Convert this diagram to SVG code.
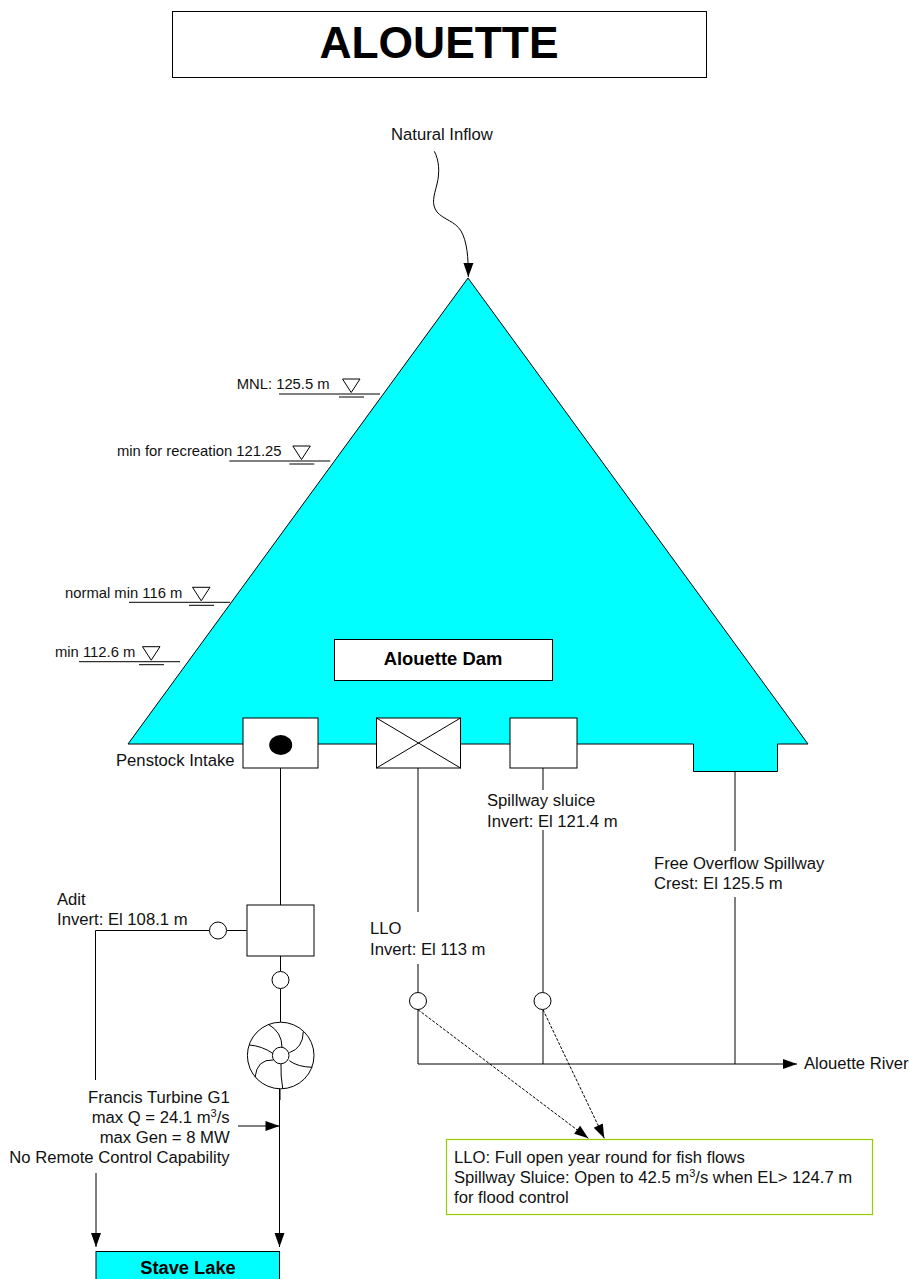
<svg xmlns="http://www.w3.org/2000/svg" width="909" height="1279" viewBox="0 0 909 1279">
<style>
text{font-family:"Liberation Sans",Arial,sans-serif;font-size:16.67px;fill:#111}
.b{font-weight:bold;fill:#000}
.m{text-anchor:middle}
.r{text-anchor:end}
.u{font-size:11px}
.l{font-size:14.8px}
.s{fill:none;stroke:#000;stroke-width:1}
.w{fill:#fff;stroke:#000;stroke-width:1}
.a{marker-end:url(#arrow)}
.d{stroke-dasharray:3 1.5;marker-end:url(#arrow)}
</style>
<defs>
<marker id="arrow" markerUnits="userSpaceOnUse" markerWidth="14" markerHeight="10" viewBox="0 0 14 10" refX="14" refY="5" orient="auto" overflow="visible"><path d="M0,0 L14,5 L0,10 Z" fill="#000"/></marker>
<g id="lvl"><path class="s" d="M0,0 H101"/><path class="s" d="M60,3 H85"/><path class="w" d="M63.5,-15 H81 L72.2,-1.5 Z"/></g>
</defs>
<rect width="909" height="1279" fill="#fff"/>
<g id="title"><rect class="w" x="172.5" y="11.5" width="534" height="66"/><text class="b m" x="439" y="58" style="font-size:44.4px">ALOUETTE</text></g>
<g id="reservoir"><path d="M468,278 L808,744 H777.5 V771.5 H693.5 V744 H128 Z" fill="#00ffff" stroke="#000" stroke-width="1"/></g>
<g id="connectors">
<path class="s a" d="M434.3,151.3 C439,160 440,172 437,184 C434,196 431,204 437,212 C444,220 455,221 461,231 C467,241 468.5,258 468.3,277"/>
<path class="s" d="M280.5,768 V905"/>
<path class="s" d="M246.5,930.5 H227"/>
<path class="s" d="M209.5,930.5 H95.5 V1080"/>
<path class="s a" d="M96,1173 V1247"/>
<path class="s" d="M280.5,956 V971.5"/>
<path class="s" d="M280.5,988.5 V1022"/>
<path class="s" d="M280,1089 V1100"/>
<path class="s a" d="M279.5,1089 V1247"/>
<path class="s a" d="M238,1126 H279.5"/>
<path class="s" d="M418,768 V912"/>
<path class="s" d="M418,964 V992.5"/>
<path class="s" d="M418,1009.5 V1064"/>
<path class="s" d="M543,768 V790"/>
<path class="s" d="M543,830 V992.5"/>
<path class="s" d="M543,1009.5 V1064"/>
<path class="s" d="M735,771.5 V851"/>
<path class="s" d="M735,897 V1064"/>
<path class="s a" d="M418,1064 H797"/>
<path class="s d" stroke-width=".8" d="M418,1009.7 L588.3,1138.3"/>
<path class="s d" stroke-width=".8" d="M543,1009.7 L604.3,1138.3"/>
</g>
<g id="inflow-label"><text x="391" y="140">Natural Inflow</text></g>
<g id="level-mnl"><use href="#lvl" x="279" y="394"/><text class="l" x="236.7" y="389">MNL: 125.5 m</text></g>
<g id="level-recreation"><use href="#lvl" x="229.3" y="461"/><text class="l" x="117" y="456">min for recreation 121.25</text></g>
<g id="level-normal"><use href="#lvl" x="129" y="602.3"/><text class="l" x="65" y="598">normal min 116 m</text></g>
<g id="level-min"><use href="#lvl" x="79" y="661.7"/><text class="l" x="55" y="657">min 112.6 m</text></g>
<g id="dam-label"><rect class="w" x="334.5" y="639.5" width="218" height="41"/><text class="b m" x="443" y="665" style="font-size:18.4px">Alouette Dam</text></g>
<g id="penstock"><rect class="w" x="243" y="718" width="75" height="50"/><ellipse cx="280.7" cy="745" rx="11.5" ry="10" fill="#000"/><text x="116" y="766">Penstock Intake</text></g>
<g id="llo"><rect class="w" x="376.5" y="718" width="84" height="50"/><path class="s" d="M376.5,718 L460.5,768 M460.5,718 L376.5,768"/><text x="370" y="934">LLO</text><text x="370" y="955">Invert: El 113 m</text></g>
<g id="sluice"><rect class="w" x="510" y="718" width="67" height="50"/><text x="487" y="806">Spillway sluice</text><text x="487" y="827">Invert: El 121.4 m</text></g>
<g id="spillway"><text x="654" y="869">Free Overflow Spillway</text><text x="654" y="889">Crest: El 125.5 m</text></g>
<g id="surge"><rect class="w" x="247" y="905" width="67" height="51"/></g>
<g id="adit"><circle class="w" cx="218" cy="930.5" r="8.5"/><text x="57" y="905">Adit</text><text x="57" y="925">Invert: El 108.1 m</text></g>
<g id="valve-g1"><circle class="w" cx="280.5" cy="980" r="8.5"/></g>
<g id="valve-llo"><circle class="w" cx="418" cy="1001" r="8.5"/></g>
<g id="valve-sluice"><circle class="w" cx="542.5" cy="1001" r="8.5"/></g>
<g id="turbine">
<circle class="w" cx="280.7" cy="1055.5" r="33.3"/>
<path class="s" d="M282,1047.3 Q282,1032 268.3,1024.3 M289.3,1052.7 Q303,1048 303.3,1031.7 M289.3,1060.7 Q298,1067 312.3,1067.3 M281,1064 Q280.5,1076 282.7,1088.3 M273.3,1060 Q257,1059 255,1077.3 M272.7,1053.3 Q262,1046 249.3,1045"/>
<circle class="w" cx="280.7" cy="1055.5" r="8.3"/>
</g>
<g id="turbine-label">
<text class="r" x="229.7" y="1103">Francis Turbine G1</text>
<text class="r" x="229.7" y="1123">max Q = 24.1 m<tspan class="u" dy="-6">3</tspan><tspan dy="6">/s</tspan></text>
<text class="r" x="229.7" y="1143">max Gen = 8 MW</text>
<text class="r" x="229.7" y="1163">No Remote Control Capability</text>
</g>
<g id="stave-lake"><rect x="96" y="1251.5" width="183.5" height="40" fill="#00ffff" stroke="#000"/><text class="b m" x="188" y="1274" style="font-size:18.3px">Stave Lake</text></g>
<g id="river-label"><text x="804" y="1069">Alouette River</text></g>
<g id="note"><rect x="446.5" y="1139.5" width="426" height="75" fill="#fff" stroke="#99cc00" stroke-width="1.2"/>
<text x="454" y="1163">LLO: Full open year round for fish flows</text>
<text x="454" y="1183">Spillway Sluice: Open to 42.5 m<tspan class="u" dy="-6">3</tspan><tspan dy="6">/s when EL&gt; 124.7 m</tspan></text>
<text x="454" y="1203">for flood control</text></g>
</svg>
